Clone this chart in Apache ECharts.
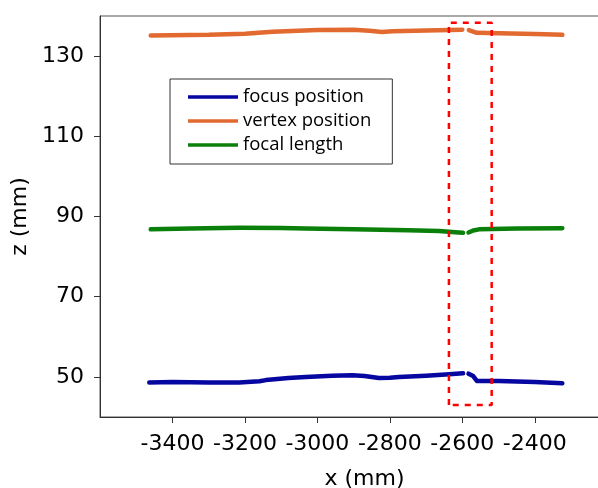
<!DOCTYPE html>
<html><head><meta charset="utf-8">
<script src="https://cdn.jsdelivr.net/npm/echarts@6/dist/echarts.min.js"></script>
<style>html,body{margin:0;padding:0;background:#fff}#c{width:598px;height:488px}</style>
</head><body><div id="c"></div>
<script>
var xTicks = [-3400, -3200, -3000, -2800, -2600, -2400];
var yTicks = [50, 70, 90, 110, 130];
var seriesNames = ['focus position', 'vertex position', 'focal length'];
var focusPos = [[-3464,48.6],[-3400,48.7],[-3300,48.6],[-3216,48.6],[-3160,48.9],[-3142,49.2],[-3080,49.7],[-3032,50.0],[-2960,50.3],[-2903,50.4],[-2870,50.2],[-2830,49.7],[-2800,49.8],[-2775,50.0],[-2700,50.3],[-2646,50.6],[-2598,50.9],null,[-2583,50.8],[-2570,50.2],[-2560,49.0],[-2499,49.0],[-2400,48.7],[-2324,48.4]];
var vertexPos = [[-3460,135.15],[-3300,135.3],[-3200,135.6],[-3124,136.1],[-3000,136.5],[-2900,136.6],[-2857,136.3],[-2821,136.0],[-2793,136.2],[-2700,136.4],[-2600,136.6],null,[-2582,136.5],[-2560,135.8],[-2499,135.7],[-2400,135.5],[-2324,135.3]];
var focalLen = [[-3460,86.8],[-3350,87.0],[-3216,87.2],[-3100,87.15],[-3032,87.0],[-2900,86.8],[-2750,86.6],[-2664,86.4],[-2637,86.2],[-2620,86.1],[-2598,85.95],null,[-2583,86.0],[-2570,86.5],[-2554,86.8],[-2450,87.0],[-2324,87.1]];
var boxX = [-2637, -2519];
var boxZ = [43.0, 138.3];
var colors = ['#0606a0', '#e2692f', '#0a800a'];

var boxData = [[boxX[0],boxZ[0]],[boxX[0],boxZ[1]],[boxX[1],boxZ[1]],[boxX[1],boxZ[0]],[boxX[0],boxZ[0]]];
var fnt = 'DejaVu Sans';
function mk(name, data, color) {
  return {name: name, type: 'line', data: data, symbol: 'none', connectNulls: false,
    lineStyle: {color: color, width: 4.5, cap: 'round', join: 'round'}, itemStyle: {color: color}, z: 3};
}
function plain(v) { return String(v); }
var chart = echarts.init(document.getElementById('c'), null, {renderer: 'canvas'});
chart.setOption({
  animation: false,
  grid: {left: 100, top: 16, width: 529, height: 401, show: true, borderColor: '#555', borderWidth: 1,
         backgroundColor: 'transparent', containLabel: false, outerBoundsMode: 'none'},
  legend: {
    data: seriesNames, orient: 'vertical', left: 170, top: 79,
    padding: [6, 21, 7, 18], itemGap: 0, itemWidth: 50, itemHeight: 3.5, icon: 'rect',
    borderColor: '#333', borderWidth: 1, backgroundColor: '#fff',
    textStyle: {fontFamily: 'Open Sans', fontSize: 18.5, color: '#000', lineHeight: 24}
  },
  xAxis: {
    type: 'value', min: -3600, max: -2140, interval: 200,
    name: 'x (mm)', nameLocation: 'middle', nameGap: 51,
    nameTextStyle: {fontFamily: fnt, fontSize: 22, color: '#000'},
    axisLine: {show: true, onZero: false, lineStyle: {color: '#333', width: 1}},
    axisTick: {show: true, length: 6, inside: false, customValues: xTicks, lineStyle: {color: '#333'}},
    axisLabel: {customValues: xTicks, formatter: plain, hideOverlap: false, fontFamily: fnt, fontSize: 22, color: '#000', margin: 16},
    splitLine: {show: false}
  },
  yAxis: {
    type: 'value', min: 40, max: 140, interval: 20,
    name: 'z (mm)', nameLocation: 'middle', nameGap: 68,
    nameTextStyle: {fontFamily: fnt, fontSize: 22, color: '#000'},
    axisLine: {show: true, onZero: false, lineStyle: {color: '#333', width: 1}},
    axisTick: {show: true, length: 6, inside: false, customValues: yTicks, lineStyle: {color: '#333'}},
    axisLabel: {customValues: yTicks, formatter: plain, fontFamily: fnt, fontSize: 22, color: '#000', margin: 16},
    splitLine: {show: false}
  },
  series: [
    mk(seriesNames[0], focusPos, colors[0]),
    mk(seriesNames[1], vertexPos, colors[1]),
    mk(seriesNames[2], focalLen, colors[2]),
    {name: 'box', type: 'line', data: boxData, symbol: 'none', z: 4,
     lineStyle: {color: '#ff0000', width: 2.5, type: [6, 6]}}
  ]
});
</script></body></html>
